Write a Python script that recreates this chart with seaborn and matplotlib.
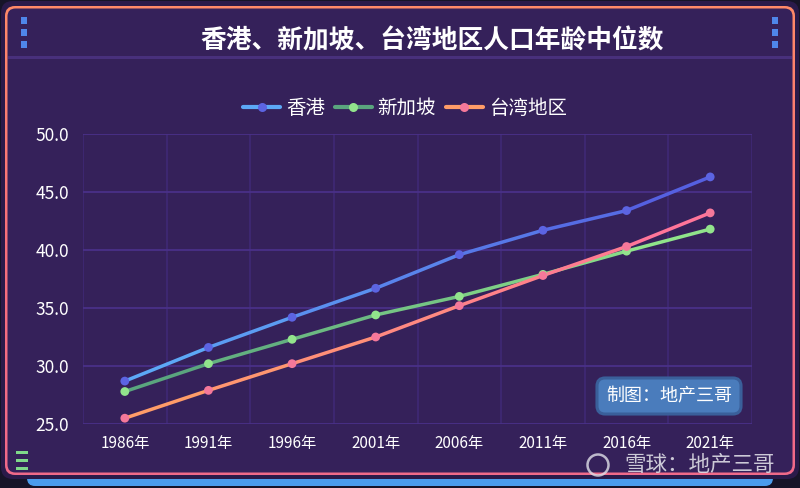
import numpy as np
import pandas as pd
import seaborn as sns
import matplotlib
matplotlib.use("Agg")
from matplotlib import pyplot as plt
from matplotlib.patches import FancyBboxPatch, Rectangle
from matplotlib.collections import LineCollection
from matplotlib.colors import LinearSegmentedColormap, to_rgb
from matplotlib.lines import Line2D

sns.set_theme(style="dark")
plt.rcParams['font.family'] = ['Noto Sans CJK SC', 'DejaVu Sans']

# 数据
years = ['1986年', '1991年', '1996年', '2001年', '2006年', '2011年', '2016年', '2021年']
hongkong = [28.7, 31.6, 34.2, 36.7, 39.6, 41.7, 43.4, 46.3]
singapore = [27.8, 30.2, 32.3, 34.4, 36.0, 37.9, 39.9, 41.8]
taiwan = [25.5, 27.9, 30.2, 32.5, 35.2, 37.8, 40.3, 43.2]
series_names = ['香港', '新加坡', '台湾地区']
y_ticks = [25.0, 30.0, 35.0, 40.0, 45.0, 50.0]

# 颜色: (起点, 终点, 圆点)
colors = {
    '香港': ('#5ca8f6', '#5560e0', '#5c64e2'),
    '新加坡': ('#5aa57e', '#90e48a', '#92e48c'),
    '台湾地区': ('#ff9c68', '#ff7599', '#f5789a'),
}

W, H = 800, 488
fig = plt.figure(figsize=(8, 4.88), dpi=100)
fig.patch.set_facecolor('#161428')

# 背景层 (像素坐标)
bg = fig.add_axes([0, 0, 1, 1])
bg.set_xlim(0, W)
bg.set_ylim(H, 0)
bg.axis('off')
bg.add_patch(FancyBboxPatch((27, 472), 746, 14, boxstyle="round,pad=0,rounding_size=8",
                            fc='#4b9cec', ec='none'))
bg.add_patch(FancyBboxPatch((1, 1), 798, 478, boxstyle="round,pad=0,rounding_size=12",
                            fc='#2a1a4a', ec='none'))
frame = FancyBboxPatch((5, 6), 790, 469, boxstyle="round,pad=0,rounding_size=10",
                       fc='none', ec='none')
bg.add_patch(frame)
grad = np.linspace(0, 1, 256).reshape(-1, 1)
cmap = LinearSegmentedColormap.from_list('frame', ['#ff8a68', '#f8707a', '#f06a8a'])
im = bg.imshow(grad, cmap=cmap, extent=[5, 795, 475, 6], aspect='auto', zorder=1)
im.set_clip_path(frame)
bg.add_patch(FancyBboxPatch((7.5, 8.5), 785, 464, boxstyle="round,pad=0,rounding_size=8",
                            fc='#35215a', ec='none', zorder=2))
bg.add_patch(Rectangle((8, 56), 784, 3, fc='#48307c', ec='none', zorder=3))
for yy in [17, 29, 41]:
    bg.add_patch(Rectangle((21, yy), 6, 7, fc='#4f86ea', ec='none', zorder=3))
    bg.add_patch(Rectangle((772, yy), 6, 7, fc='#4f86ea', ec='none', zorder=3))
for yy in [451, 459, 467]:
    bg.add_patch(Rectangle((16, yy), 12, 2.5, fc='#7fd88a', ec='none', zorder=3))

fig.text(432 / W, 1 - 41 / H, '香港、新加坡、台湾地区人口年龄中位数', color='white',
         fontsize=18.5, fontweight='bold', ha='center', va='center')

# 主图
ax = fig.add_axes([83 / W, 64 / H, 669 / W, 290 / H])
ax.set_facecolor('none')
x = np.arange(len(years))

for name, vals in zip(series_names, [hongkong, singapore, taiwan]):
    c0, c1, cm = colors[name]
    pts = np.column_stack([x, vals])
    segs = np.stack([pts[:-1], pts[1:]], axis=1)
    a, b = np.array(to_rgb(c0)), np.array(to_rgb(c1))
    t = np.linspace(0, 1, len(segs))
    seg_cols = [a + (b - a) * ti for ti in t]
    lc = LineCollection(segs, colors=seg_cols, linewidths=2.5, capstyle='round', zorder=3)
    ax.add_collection(lc)
    df = pd.DataFrame({'x': x, 'y': vals})
    sns.scatterplot(data=df, x='x', y='y', color=cm, s=40, edgecolor='none', zorder=4, ax=ax)

ax.set_xlim(-0.5, len(years) - 0.5)
ax.set_ylim(25, 50)
ax.set_yticks(y_ticks)
ax.set_yticklabels([f'{v:.1f}' for v in y_ticks])
ax.set_xticks(x)
ax.set_xticklabels(years)
ax.set_xticks(np.arange(-0.5, len(years)), minor=True)
ax.tick_params(axis='y', colors='white', labelsize=12.5, length=0, pad=10)
ax.tick_params(axis='x', colors='white', labelsize=11, length=0, pad=8)
ax.tick_params(which='minor', length=0)
ax.grid(False)
ax.grid(axis='y', which='major', color='#4a3088', lw=1.3)
ax.grid(axis='x', which='minor', color='#402a78', lw=1.1)
for s in ax.spines.values():
    s.set_visible(False)
ax.set_xlabel('')
ax.set_ylabel('')

handles = [Line2D([0], [0], color=colors[n][0], lw=3, marker='o', markersize=6.5,
                  markerfacecolor=colors[n][2], markeredgecolor='none') for n in series_names]
fig.legend(handles, series_names, loc='center', bbox_to_anchor=(405 / W, 1 - 108 / H), ncol=3,
           frameon=False, labelcolor='white', handlelength=1.9,
           handletextpad=0.3, columnspacing=0.5, prop={'weight': 'medium', 'size': 14})

fig.text(669 / W, 1 - 396 / H, '制图：地产三哥', color='white', fontsize=13,
         ha='center', va='center',
         bbox=dict(boxstyle='round,pad=0.5,rounding_size=0.45', fc='#4a7cbc', ec='#3a5f9a', lw=2.2))

fig.text(775 / W, 1 - 465 / H, '雪球：地产三哥', color='#e8e8ee', fontsize=15.5,
         ha='right', va='center', alpha=0.85)
bg.add_patch(plt.Circle((598, 465), 10.5, fc='none', ec='#e0e0e8', lw=1.8, alpha=0.8, zorder=5))

fig.savefig('out.png', dpi=100, facecolor=fig.get_facecolor())
